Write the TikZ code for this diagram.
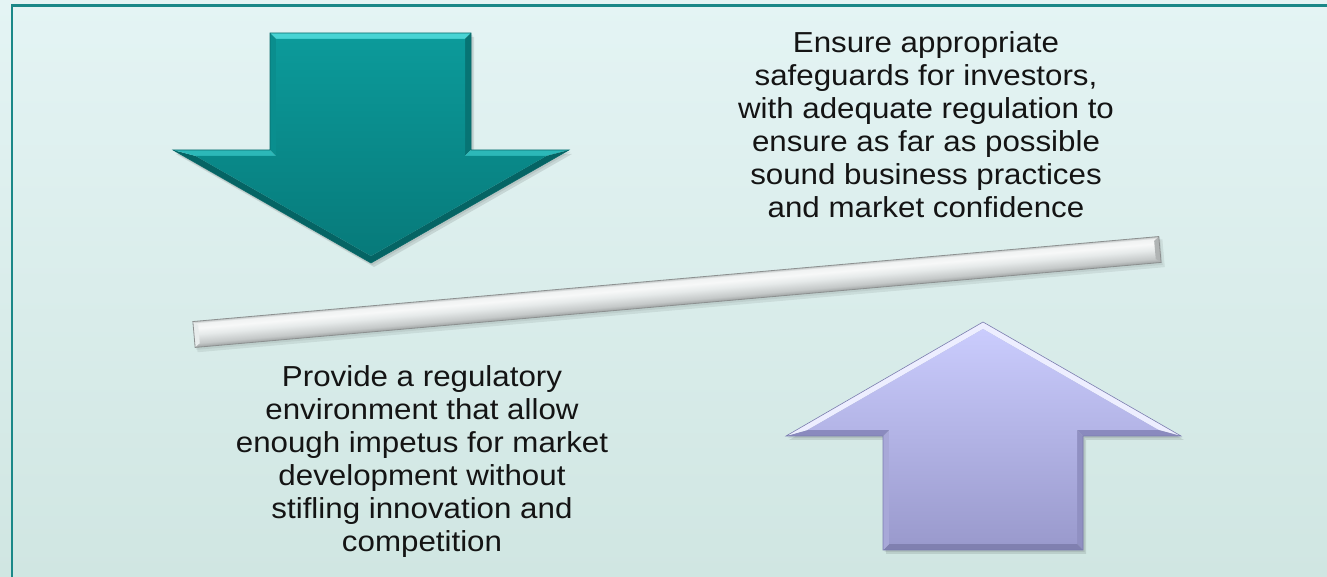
\documentclass[tikz,border=0pt]{standalone}
\usepackage{fontspec}
\setmainfont{Liberation Sans}[FakeStretch=1.083]
\definecolor{bgtop}{HTML}{E4F4F4}
\definecolor{bgbot}{HTML}{D0E6E2}
\definecolor{framec}{HTML}{1A8888}
% teal arrow
\definecolor{tbodyT}{HTML}{0C9A9A}
\definecolor{tbodyB}{HTML}{077A7A}
\definecolor{trimTop}{HTML}{48D4D4}
\definecolor{trimUp}{HTML}{2CB8B8}
\definecolor{trimL}{HTML}{0A8E8E}
\definecolor{trimR}{HTML}{077474}
\definecolor{trimDown}{HTML}{056464}
\definecolor{tedge}{HTML}{0A6A6A}
% lavender arrow
\definecolor{lbodyT}{HTML}{CACCFD}
\definecolor{lbodyB}{HTML}{9A9ACD}
\definecolor{lrimHi}{HTML}{EDEEFF}
\definecolor{lrimDown}{HTML}{8A8ABE}
\definecolor{lrimR}{HTML}{9090C2}
\definecolor{lrimBot}{HTML}{8080B0}
\definecolor{lrimL}{HTML}{A8A8D8}
\definecolor{ledge}{HTML}{7A7CAE}
% bar
\definecolor{barC1}{HTML}{9EA2A2}
\definecolor{barC2}{HTML}{C4C8C8}
\definecolor{barC3}{HTML}{E6EAEA}
\definecolor{barC4}{HTML}{F7F8F8}
\definecolor{barC5}{HTML}{F0F2F2}
\definecolor{barC6}{HTML}{C4C8C8}
\definecolor{barendL}{HTML}{E8ECEC}
\definecolor{barendR}{HTML}{B0B4B4}
\definecolor{baredge}{HTML}{8C9090}
\pgfdeclareverticalshading{barshade}{100bp}{color(0bp)=(barC1); color(25bp)=(barC1); color(33bp)=(barC2); color(50bp)=(barC3); color(62bp)=(barC4); color(71bp)=(barC5); color(75bp)=(barC6); color(100bp)=(barC6)}
\begin{document}
\begin{tikzpicture}[x=1bp,y=1bp,line join=miter,
  txt/.style={align=center,inner sep=0pt,text=black!92,
    font=\fontsize{28.9bp}{33bp}\selectfont}]
\useasboundingbox (0,0) rectangle (1327,577);
% background and frame
\shade[top color=bgtop,bottom color=bgbot] (0,0) rectangle (1327,577);
\draw[framec,line width=2.2bp] (12,-5) -- (12,571.5) -- (1335,571.5);

% ---------- down arrow (teal) ----------
\coordinate (P1) at (270,544);
\coordinate (P2) at (471,544);
\coordinate (P3) at (471,427);
\coordinate (P4) at (569,427);
\coordinate (P5) at (371,314);
\coordinate (P6) at (173,427);
\coordinate (P7) at (270,427);
\coordinate (Q1) at (276,538);
\coordinate (Q2) at (465,538);
\coordinate (Q3) at (465,421);
\coordinate (Q4) at (546.4,421);
\coordinate (Q5) at (371,321);
\coordinate (Q6) at (195.6,421);
\coordinate (Q7) at (276,421);
\begin{scope}[transform canvas={shift={(3,-4)}}]
\fill[black,opacity=0.10] (P1)--(P2)--(P3)--(P4)--(P5)--(P6)--(P7)--cycle;
\end{scope}
\begin{scope}[transform canvas={shift={(1.5,-2)}}]
\fill[black,opacity=0.08] (P1)--(P2)--(P3)--(P4)--(P5)--(P6)--(P7)--cycle;
\end{scope}
\fill[trimTop]  (P1)--(P2)--(Q2)--(Q1)--cycle;
\fill[trimR]    (P2)--(P3)--(Q3)--(Q2)--cycle;
\fill[trimUp]   (P3)--(P4)--(Q4)--(Q3)--cycle;
\fill[trimDown] (P4)--(P5)--(Q5)--(Q4)--cycle;
\fill[trimDown] (P5)--(P6)--(Q6)--(Q5)--cycle;
\fill[trimUp]   (P6)--(P7)--(Q7)--(Q6)--cycle;
\fill[trimL]    (P7)--(P1)--(Q1)--(Q7)--cycle;
\shade[top color=tbodyT,bottom color=tbodyB]
  (Q1)--(Q2)--(Q3)--(Q4)--(Q5)--(Q6)--(Q7)--cycle;
\draw[tedge,line width=0.6bp] (P1)--(P2)--(P3)--(P4)--(P5)--(P6)--(P7)--cycle;

% ---------- up arrow (lavender) ----------
\coordinate (U1) at (983,255);
\coordinate (U2) at (1181,141);
\coordinate (U3) at (1083,141);
\coordinate (U4) at (1083,27);
\coordinate (U5) at (883,27);
\coordinate (U6) at (883,141);
\coordinate (U7) at (786,141);
\coordinate (V1) at (983,248);
\coordinate (V2) at (1158.5,147);
\coordinate (V3) at (1077,147);
\coordinate (V4) at (1077,33);
\coordinate (V5) at (889,33);
\coordinate (V6) at (889,147);
\coordinate (V7) at (807.5,147);
\begin{scope}[transform canvas={shift={(3,-4)}}]
\fill[black,opacity=0.10] (U1)--(U2)--(U3)--(U4)--(U5)--(U6)--(U7)--cycle;
\end{scope}
\begin{scope}[transform canvas={shift={(1.5,-2)}}]
\fill[black,opacity=0.08] (U1)--(U2)--(U3)--(U4)--(U5)--(U6)--(U7)--cycle;
\end{scope}
\fill[lrimHi]   (U1)--(U2)--(V2)--(V1)--cycle;
\fill[lrimDown] (U2)--(U3)--(V3)--(V2)--cycle;
\fill[lrimR]    (U3)--(U4)--(V4)--(V3)--cycle;
\fill[lrimBot]  (U4)--(U5)--(V5)--(V4)--cycle;
\fill[lrimL]    (U5)--(U6)--(V6)--(V5)--cycle;
\fill[lrimDown] (U6)--(U7)--(V7)--(V6)--cycle;
\fill[lrimHi]   (U7)--(U1)--(V1)--(V7)--cycle;
\shade[top color=lbodyT,bottom color=lbodyB]
  (V1)--(V2)--(V3)--(V4)--(V5)--(V6)--(V7)--cycle;
\draw[ledge,line width=0.6bp] (U1)--(U2)--(U3)--(U4)--(U5)--(U6)--(U7)--cycle;

% ---------- balance bar ----------
\begin{scope}[transform canvas={shift={(194,242.5)},rotate=5.03}]
\fill[black,opacity=0.07] (2,-18) rectangle (973,10);
\fill[black,opacity=0.06] (1,-15.5) rectangle (971,11);
\shade[shading=barshade] (0,-13) rectangle (969.7,13);
\fill[barendL] (0,-13) -- (5,-9) -- (5,9) -- (0,13) -- cycle;
\fill[barendR] (969.7,-13) -- (964.7,-9) -- (964.7,9) -- (969.7,13) -- cycle;
\draw[baredge,line width=0.8bp] (0,-13) rectangle (969.7,13);
\end{scope}

% ---------- texts ----------
\node[txt,anchor=north] (safeguards) at (926,545.5)
  {Ensure appropriate\\safeguards for investors,\\with adequate regulation to\\ensure as far as possible\\sound business practices\\and market confidence};
\node[txt,anchor=north] (environment) at (422,212)
  {Provide a regulatory\\environment that allow\\enough impetus for market\\development without\\stifling innovation and\\competition};
\end{tikzpicture}
\end{document}
